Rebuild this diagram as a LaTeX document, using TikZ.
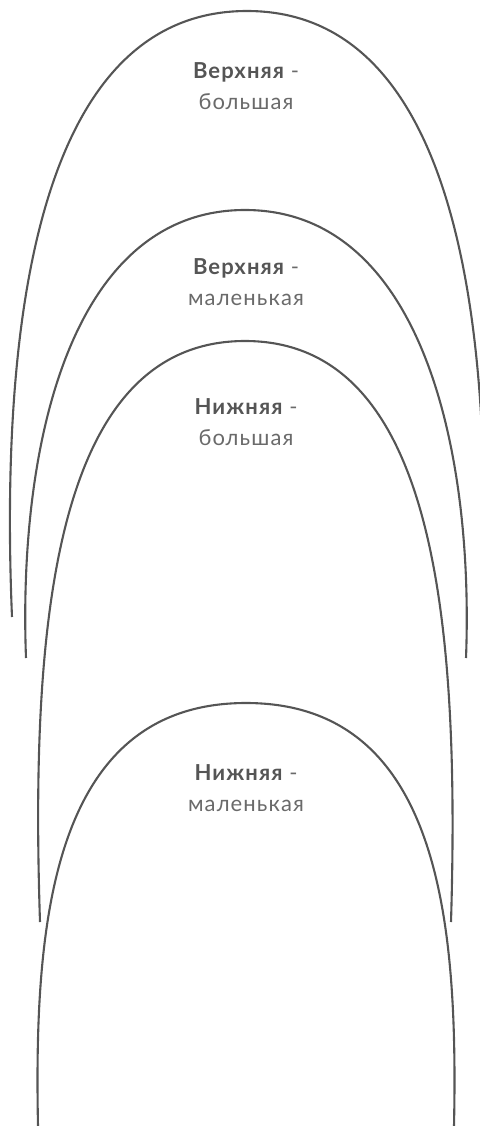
\documentclass[tikz,border=0pt]{standalone}
\usepackage{fontspec}
\setmainfont{Lato}[LetterSpace=5]
\usetikzlibrary{positioning}
\definecolor{archgray}{HTML}{555555}
\definecolor{textgray}{HTML}{6a6a6a}

\begin{document}
\begin{tikzpicture}[
  x=1pt, y=-1pt,
  arch/.style={draw=archgray, line width=2.1pt},
  archtext/.style={align=center, anchor=base, inner sep=0pt, text=textgray,
                   font=\fontsize{22}{31}\selectfont}
]
\useasboundingbox (0,0) rectangle (479,1126);

% arches, outer one first
\draw[arch] (12,617) .. controls (0,330) and (35,11) .. (247,11)
  .. controls (459,11) and (494,330) .. (482,617);
\draw[arch] (26,658) .. controls (18,447) and (70,210) .. (245,210)
  .. controls (420,210) and (474,447) .. (466,658);
\draw[arch] (40,922) .. controls (30,620) and (55,341) .. (245,341)
  .. controls (435,341) and (460,620) .. (451,922);
\draw[arch] (38,1126) .. controls (34,927) and (50,703) .. (246,703)
  .. controls (442,703) and (458,927) .. (454,1126);

% labels (base = baseline of the second line)
\node[archtext] (upperbig) at (246,110)
  {\textbf{\color{archgray}Верхняя} -\\большая};
\node[archtext] (uppersmall) at (246,305)
  {\textbf{\color{archgray}Верхняя} -\\маленькая};
\node[archtext] (lowerbig) at (246,445)
  {\textbf{\color{archgray}Нижняя} -\\большая};
\node[archtext] (lowersmall) at (246,811)
  {\textbf{\color{archgray}Нижняя} -\\маленькая};
\end{tikzpicture}
\end{document}
